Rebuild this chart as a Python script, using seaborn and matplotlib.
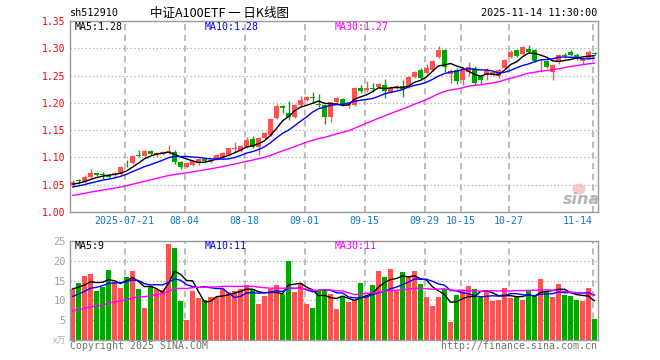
import numpy as np
import pandas as pd
import matplotlib
matplotlib.use("Agg")
import matplotlib.pyplot as plt
from matplotlib.patches import Ellipse
import seaborn as sns

# ---------------- data ----------------
opens = [1.049, 1.058, 1.056, 1.065, 1.071, 1.069, 1.068, 1.067, 1.070, 1.090,
         1.090, 1.104, 1.103, 1.112, 1.104, 1.106, 1.109, 1.110, 1.092, 1.082,
         1.087, 1.089, 1.097, 1.092, 1.097, 1.101, 1.104, 1.116, 1.112, 1.120,
         1.133, 1.119, 1.136, 1.141, 1.173, 1.195, 1.182, 1.174, 1.196, 1.205,
         1.211, 1.197, 1.196, 1.175, 1.202, 1.207, 1.196, 1.196, 1.228, 1.223,
         1.228, 1.229, 1.233, 1.220, 1.227, 1.231, 1.230, 1.247, 1.261, 1.255,
         1.261, 1.284, 1.296, 1.253, 1.261, 1.241, 1.257, 1.263, 1.249, 1.253,
         1.253, 1.249, 1.264, 1.284, 1.296, 1.290, 1.298, 1.297, 1.278, 1.277,
         1.257, 1.274, 1.287, 1.294, 1.288, 1.276, 1.282, 1.292]
highs = [1.058, 1.061, 1.067, 1.078, 1.072, 1.073, 1.070, 1.074, 1.084, 1.096,
         1.104, 1.114, 1.114, 1.113, 1.110, 1.112, 1.123, 1.113, 1.094, 1.091,
         1.095, 1.099, 1.099, 1.098, 1.106, 1.110, 1.118, 1.129, 1.123, 1.138,
         1.140, 1.137, 1.147, 1.171, 1.197, 1.196, 1.204, 1.198, 1.212, 1.213,
         1.220, 1.216, 1.198, 1.202, 1.211, 1.209, 1.202, 1.229, 1.232, 1.240,
         1.236, 1.237, 1.243, 1.230, 1.233, 1.242, 1.249, 1.259, 1.263, 1.272,
         1.279, 1.305, 1.298, 1.262, 1.263, 1.262, 1.274, 1.267, 1.251, 1.263,
         1.259, 1.262, 1.281, 1.297, 1.298, 1.305, 1.306, 1.299, 1.280, 1.279,
         1.272, 1.290, 1.292, 1.296, 1.292, 1.282, 1.297, 1.293]
lows = [1.046, 1.052, 1.054, 1.063, 1.066, 1.060, 1.063, 1.064, 1.068, 1.083,
        1.088, 1.100, 1.101, 1.104, 1.101, 1.104, 1.107, 1.088, 1.078, 1.080,
        1.085, 1.087, 1.092, 1.090, 1.096, 1.099, 1.102, 1.110, 1.110, 1.118,
        1.118, 1.104, 1.134, 1.139, 1.171, 1.182, 1.169, 1.172, 1.193, 1.203,
        1.200, 1.192, 1.161, 1.165, 1.200, 1.194, 1.190, 1.194, 1.218, 1.220,
        1.220, 1.227, 1.208, 1.218, 1.225, 1.211, 1.228, 1.245, 1.243, 1.253,
        1.259, 1.282, 1.257, 1.236, 1.235, 1.233, 1.249, 1.233, 1.233, 1.241,
        1.250, 1.245, 1.262, 1.282, 1.284, 1.288, 1.291, 1.274, 1.257, 1.263,
        1.241, 1.272, 1.282, 1.286, 1.278, 1.272, 1.280, 1.288]
closes = [1.055, 1.056, 1.065, 1.071, 1.068, 1.068, 1.065, 1.072, 1.082, 1.089,
          1.103, 1.102, 1.112, 1.106, 1.108, 1.110, 1.112, 1.092, 1.083, 1.089,
          1.093, 1.097, 1.094, 1.096, 1.104, 1.108, 1.117, 1.117, 1.121, 1.132,
          1.120, 1.135, 1.145, 1.170, 1.195, 1.190, 1.175, 1.196, 1.205, 1.211,
          1.209, 1.196, 1.175, 1.201, 1.209, 1.196, 1.200, 1.228, 1.222, 1.227,
          1.226, 1.235, 1.221, 1.228, 1.231, 1.225, 1.248, 1.257, 1.245, 1.263,
          1.277, 1.297, 1.265, 1.259, 1.240, 1.260, 1.265, 1.237, 1.242, 1.261,
          1.257, 1.260, 1.279, 1.294, 1.286, 1.303, 1.294, 1.276, 1.279, 1.266,
          1.270, 1.288, 1.285, 1.288, 1.280, 1.280, 1.294, 1.290]
volumes = [13.0, 14.3, 16.1, 16.7, 12.4, 13.3, 17.7, 14.7, 13.2, 15.9,
           17.4, 12.8, 8.1, 13.6, 13.0, 12.6, 24.3, 23.3, 9.9, 5.0,
           12.3, 10.6, 10.2, 10.8, 10.9, 13.0, 12.2, 12.4, 12.8, 13.8,
           13.0, 9.0, 11.1, 13.0, 13.9, 11.5, 19.9, 12.1, 14.3, 9.0,
           8.1, 12.4, 12.6, 11.5, 7.8, 11.1, 9.6, 10.0, 14.4, 10.9,
           13.9, 17.5, 16.0, 17.9, 12.4, 17.2, 16.1, 17.5, 14.1, 10.9,
           8.6, 10.9, 12.8, 4.5, 11.3, 12.6, 13.6, 12.8, 10.9, 12.4,
           9.9, 10.0, 13.2, 10.5, 11.1, 10.0, 12.4, 11.2, 15.4, 12.4,
           10.9, 14.1, 11.3, 11.1, 10.0, 9.8, 13.2, 5.2]
# estimated sessions before the window, used only to seed the moving averages
hist_closes = [1.005, 1.008, 1.003, 1.010, 1.014, 1.012, 1.018, 1.020, 1.016, 1.022,
               1.025, 1.028, 1.026, 1.030, 1.033, 1.031, 1.036, 1.040, 1.038, 1.042,
               1.038, 1.042, 1.040, 1.043, 1.042, 1.047, 1.050, 1.052, 1.051]
hist_volumes = [4.5, 5.2, 4.8, 6.0, 5.5, 4.2, 5.0, 6.3, 5.8, 4.9,
                5.6, 6.1, 5.3, 4.7, 5.9, 6.4, 5.1, 5.7, 6.2, 5.8,
                8.2, 9.5, 8.8, 9.9, 9.1, 12.1, 13.4, 12.6, 13.4]
tick_dates = ["2025-07-21", "2025-08-04", "2025-08-18", "2025-09-01", "2025-09-15",
              "2025-09-29", "2025-10-15", "2025-10-27", "2025-11-14"]
tick_labels = ["2025-07-21", "08-04", "08-18", "09-01", "09-15",
               "09-29", "10-15", "10-27", "11-14"]
price_ticks = [1.00, 1.05, 1.10, 1.15, 1.20, 1.25, 1.30, 1.35]
vol_ticks = [5, 10, 15, 20, 25]

# ---------------- derived ----------------
holidays = pd.to_datetime(["2025-10-01", "2025-10-02", "2025-10-03",
                           "2025-10-06", "2025-10-07", "2025-10-08"])
dates = pd.bdate_range("2025-07-08", "2025-11-14")
dates = dates[~dates.isin(holidays)]
n = len(closes)
idx = np.arange(n)
df = pd.DataFrame({"i": idx, "open": opens, "high": highs, "low": lows,
                   "close": closes, "vol": volumes}, index=dates[:n])
allc = pd.Series(hist_closes + closes)
allv = pd.Series(hist_volumes + volumes)
h = len(hist_closes)
for w in (5, 10, 30):
    df[f"ma{w}"] = allc.rolling(w, min_periods=1).mean().values[h:]
    df[f"vma{w}"] = allv.rolling(w, min_periods=1).mean().values[h:]
df["up"] = df["close"] >= df["open"]

RED = "#ff5353"
GREEN = "#00a600"
cols = np.where(df["up"], RED, GREEN)

# ---------------- figure ----------------
sns.set_theme(style="white")
plt.rcParams["font.family"] = ["DejaVu Sans Mono", "Noto Sans CJK SC"]
W, H = 660, 360
fig = plt.figure(figsize=(W / 100, H / 100), dpi=100)
ax1 = fig.add_axes([70 / W, 1 - 212 / H, 528 / W, 191 / H])
ax2 = fig.add_axes([70 / W, 1 - 340 / H, 528 / W, 99 / H])

xl = (-0.42, n - 1 + 0.58)
grid_x = [df.loc[pd.Timestamp(d), "i"] - 0.33 for d in tick_dates]

for ax in (ax1, ax2):
    ax.set_facecolor("white")
    for s in ax.spines.values():
        s.set_color("#9a9a9a")
        s.set_linewidth(1.0)
    ax.set_xlim(*xl)
    ax.set_xticks(grid_x)
    ax.grid(axis="x", color="#aaaaaa", linestyle=(0, (4, 3)), linewidth=1.1)
    ax.grid(axis="y", color="#aaaaaa", linestyle=(0, (1, 2)), linewidth=0.9)
    ax.set_axisbelow(True)
    ax.tick_params(length=0)

# candles
body_b = np.minimum(df["open"], df["close"])
body_h = np.maximum((df["close"] - df["open"]).abs(), 0.0012)
ax1.vlines(df["i"], df["low"], df["high"], colors=cols, linewidth=1.0, zorder=2)
ax1.bar(df["i"], body_h, bottom=body_b, width=0.82, color=cols, linewidth=0, zorder=3)

sns.lineplot(data=df, x="i", y="ma5", ax=ax1, color="black", linewidth=1.0, zorder=4)
sns.lineplot(data=df, x="i", y="ma10", ax=ax1, color="#0000ff", linewidth=1.0, zorder=4)
sns.lineplot(data=df, x="i", y="ma30", ax=ax1, color="#ff00ff", linewidth=1.0, zorder=4)
ax1.set_ylim(price_ticks[0], price_ticks[-1])
ax1.set_yticks(price_ticks)
ax1.set_yticklabels([f"{t:.2f}" for t in price_ticks], color="#ff0000", fontsize=7)
ax1.set_xticks(grid_x)
ax1.set_xticklabels(tick_labels, color="#0a78d0", fontsize=7.1)
ax1.tick_params(axis="x", pad=3)
ax1.tick_params(axis="y", pad=3)
ax1.get_xticklabels()[-1].set_horizontalalignment("right")
ax1.set_xlabel("")
ax1.set_ylabel("")

# volume
ax2.bar(df["i"], df["vol"], width=0.82, color=cols, linewidth=0, zorder=2)
sns.lineplot(data=df, x="i", y="vma5", ax=ax2, color="black", linewidth=1.0, zorder=4)
sns.lineplot(data=df, x="i", y="vma10", ax=ax2, color="#0000ff", linewidth=1.0, zorder=4)
sns.lineplot(data=df, x="i", y="vma30", ax=ax2, color="#ff00ff", linewidth=1.0, zorder=4)
ax2.set_ylim(0, 25)
ax2.set_yticks(vol_ticks)
ax2.set_yticklabels([str(t) for t in vol_ticks], color="#a0a0a0", fontsize=7.5)
ax2.set_xticks(grid_x)
ax2.set_xticklabels([])
ax2.tick_params(axis="y", pad=3)
ax2.set_xlabel("")
ax2.set_ylabel("")


def ftxt(x, y, s, **kw):
    fig.text(x / W, 1 - y / H, s, **kw)


trunc2 = lambda v: np.floor(v * 100 + 1e-9) / 100
last = df.iloc[-1]
ftxt(70, 13, "sh512910", fontsize=7.3, color="black", va="center")
ftxt(150, 13, "中证A100ETF 一 日K线图", fontsize=9,
     family=["Noto Sans CJK SC", "DejaVu Sans"], color="black", va="center")
ftxt(597, 13, "2025-11-14 11:30:00", fontsize=7.3, color="black", va="center", ha="right")

ftxt(75, 27, f"MA5:{trunc2(last['ma5']):.2f}", fontsize=7.1, color="black", va="center")
ftxt(205, 27, f"MA10:{trunc2(last['ma10']):.2f}", fontsize=7.1, color="#0000ff", va="center")
ftxt(335, 27, f"MA30:{trunc2(last['ma30']):.2f}", fontsize=7.1, color="#ff00ff", va="center")
ftxt(75, 246, f"MA5:{int(last['vma5'])}", fontsize=7.1, color="black", va="center")
ftxt(205, 246, f"MA10:{int(last['vma10'])}", fontsize=7.1, color="#0000ff", va="center")
ftxt(335, 246, f"MA30:{int(last['vma30'])}", fontsize=7.1, color="#ff00ff", va="center")

ftxt(66, 341, "x万", fontsize=6.5, color="#b0b0b0", va="center", ha="right",
     family=["Noto Sans CJK SC", "DejaVu Sans"])
ftxt(70, 346, "Copyright 2025 SINA.COM", fontsize=7.1, color="#707070", va="center")
ftxt(597, 346, "http://finance.sina.com.cn", fontsize=7.1, color="#707070", va="center", ha="right")

# sina watermark
fig.add_artist(Ellipse((579 / W, 1 - 189 / H), 13 / W, 11 / H, transform=fig.transFigure,
                       facecolor="#f6bcbc", edgecolor="none", alpha=0.8))
ftxt(581, 199, "sina", fontsize=11.5, color="#b4b4b4", va="center", ha="center",
     style="italic", weight="bold", family="DejaVu Sans")

fig.savefig("out.png", dpi=100)
